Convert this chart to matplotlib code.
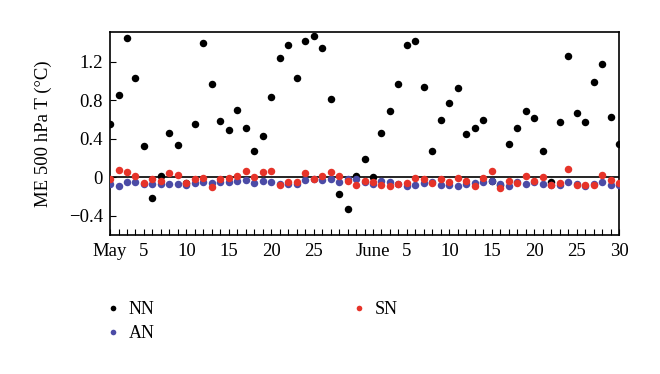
import numpy as np
import matplotlib as mpl
mpl.use('Agg')
import matplotlib.pyplot as plt

font = {'family': 'Liberation Serif',
        'size': 13.5}
plt.rc('font', **font)

# days: May 1 .. June 30 (61 days)
days = np.arange(1, 62)

NN = [0.55, 0.856, 1.454, 1.033, 0.324, -0.212, 0.014, 0.456, 0.338, -0.06,
      0.553, 1.395, 0.971, 0.588, 0.487, 0.703, 0.508, 0.278, 0.428, 0.839,
      1.239, 1.374, 1.033, 1.413, 1.475, 1.347, 0.811, -0.174, -0.331, 0.017,
      0.188, 0.003, 0.456, 0.692, 0.971, 1.381, 1.416, 0.936, 0.268, 0.592,
      0.776, 0.926, 0.452, 0.511, 0.598, -0.04, -0.08, 0.351, 0.511, 0.685,
      0.612, 0.268, -0.045, 0.574, 1.263, 0.672, 0.578, 0.995, 1.180, 0.630,
      0.351]

SN = [-0.017, 0.080, 0.052, 0.014, -0.063, -0.021, -0.042, 0.045, 0.028, -0.063,
      -0.017, -0.007, -0.101, -0.014, -0.010, 0.014, 0.070, 0.007, 0.052, 0.070,
      -0.084, -0.045, -0.045, 0.049, -0.014, 0.010, 0.056, 0.014, -0.038, -0.084,
      -0.035, -0.045, -0.080, -0.090, -0.070, -0.059, -0.003, -0.021, -0.056, -0.017,
      -0.052, -0.007, -0.035, -0.090, -0.007, 0.063, -0.115, -0.035, -0.063, 0.014,
      -0.035, 0.003, -0.077, -0.056, 0.090, -0.077, -0.077, -0.077, 0.028, -0.031,
      -0.059]

AN = [-0.073, -0.090, -0.052, -0.052, -0.066, -0.066, -0.073, -0.070, -0.070, -0.077,
      -0.059, -0.052, -0.063, -0.052, -0.045, -0.035, -0.028, -0.056, -0.035, -0.045,
      -0.070, -0.070, -0.070, -0.024, -0.014, -0.028, -0.014, -0.045, -0.014, -0.016,
      -0.052, -0.066, -0.042, -0.049, -0.070, -0.090, -0.080, -0.056, -0.052, -0.080,
      -0.084, -0.090, -0.066, -0.059, -0.049, -0.042, -0.066, -0.087, -0.045, -0.070,
      -0.052, -0.070, -0.080, -0.084, -0.052, -0.070, -0.094, -0.070, -0.052, -0.080,
      -0.080]

tick_days = [1, 5, 10, 15, 20, 25, 32, 36, 41, 46, 51, 56, 61]
tick_labels = ['May', '5', '10', '15', '20', '25', 'June', '5', '10', '15', '20', '25', '30']

fig = plt.figure(figsize=(6.6, 3.74), dpi=100)
ax = fig.add_axes([0.1667, 0.372, 0.7712, 0.542])

ax.axhline(0, color='black', lw=1.2, zorder=1)
ax.plot(days, NN, 'o', color='black', ms=5.4, mew=0, label='NN', zorder=2)
ax.plot(days, AN, 'o', color='#4b4ba6', ms=5.4, mew=0, label='AN', zorder=3)
ax.plot(days, SN, 'o', color='#e63329', ms=5.4, mew=0, label='SN', zorder=4)

ax.set_xlim(1, 61)
ax.set_ylim(-0.6, 1.51)
ax.set_yticks([-0.4, 0, 0.4, 0.8, 1.2])
ax.set_yticklabels(['\u22120.4', '0', '0.4', '0.8', '1.2'])
ax.set_xticks(tick_days)
ax.set_xticklabels(tick_labels)
ax.set_xticks(days, minor=True)
ax.tick_params(axis='both', which='both', direction='in', length=4, width=0.8)
ax.tick_params(axis='x', which='major', pad=6)
ax.tick_params(axis='y', right=False, pad=5)
for s in ax.spines.values():
    s.set_linewidth(1.2)

ax.set_ylabel('ME 500 hPa T (\u00b0C)', labelpad=12)

handles, labels = ax.get_legend_handles_labels()
# order NN, AN (first column) and SN (second column)
fig.legend(handles, labels, loc='upper left', bbox_to_anchor=(0.1626, 0.195),
           ncol=2, frameon=False, markerscale=0.75, handlelength=0.6,
           handletextpad=0.6, columnspacing=11.0, labelspacing=0.39,
           borderpad=0, borderaxespad=0, fontsize=13)

plt.savefig('out.png', dpi=100)
